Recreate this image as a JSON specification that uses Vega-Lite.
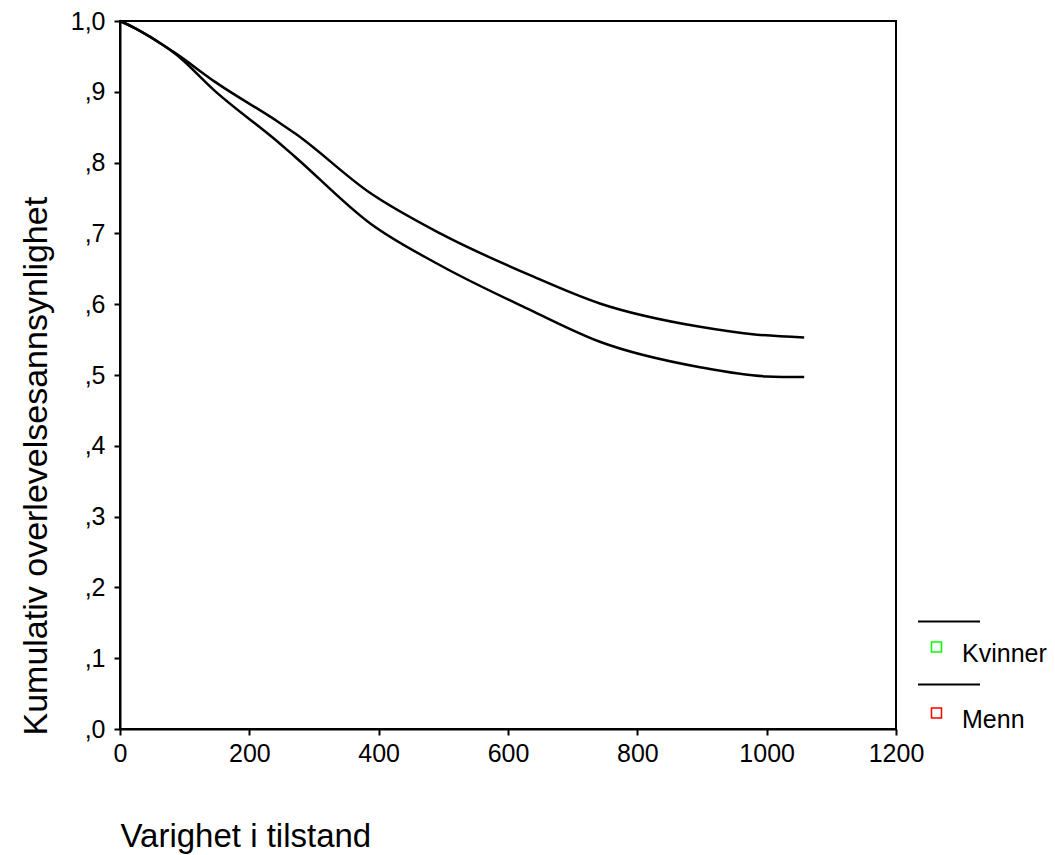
{
  "$schema": "https://vega.github.io/schema/vega-lite/v6.json",
  "width": 776,
  "height": 708,
  "autosize": "none",
  "padding": {"left": 120, "top": 21, "right": 159, "bottom": 126},
  "background": "white",
  "config": {
    "font": "Liberation Sans",
    "view": {"stroke": "black", "strokeWidth": 2},
    "axis": {
      "domainColor": "black", "domainWidth": 2,
      "tickColor": "black", "tickWidth": 2, "tickSize": 6,
      "labelFont": "Liberation Sans", "labelFontSize": 25, "labelColor": "black",
      "titleFont": "Liberation Sans", "titleFontSize": 33, "titleFontWeight": "normal", "titleColor": "black",
      "grid": false
    }
  },
  "datasets": {
    "curves": [
      {"g": "Kvinner", "t": 0, "s": 1.0},
      {"g": "Kvinner", "t": 23, "s": 0.990},
      {"g": "Kvinner", "t": 70, "s": 0.964},
      {"g": "Kvinner", "t": 85, "s": 0.955},
      {"g": "Kvinner", "t": 147, "s": 0.914},
      {"g": "Kvinner", "t": 247, "s": 0.856},
      {"g": "Kvinner", "t": 271, "s": 0.841},
      {"g": "Kvinner", "t": 387, "s": 0.757},
      {"g": "Kvinner", "t": 495, "s": 0.700},
      {"g": "Kvinner", "t": 634, "s": 0.641},
      {"g": "Kvinner", "t": 742, "s": 0.601},
      {"g": "Kvinner", "t": 897, "s": 0.568},
      {"g": "Kvinner", "t": 985, "s": 0.557},
      {"g": "Kvinner", "t": 1058, "s": 0.553},
      {"g": "Menn", "t": 0, "s": 1.0},
      {"g": "Menn", "t": 23, "s": 0.990},
      {"g": "Menn", "t": 70, "s": 0.964},
      {"g": "Menn", "t": 85, "s": 0.954},
      {"g": "Menn", "t": 147, "s": 0.901},
      {"g": "Menn", "t": 247, "s": 0.827},
      {"g": "Menn", "t": 271, "s": 0.808},
      {"g": "Menn", "t": 387, "s": 0.714},
      {"g": "Menn", "t": 495, "s": 0.655},
      {"g": "Menn", "t": 634, "s": 0.592},
      {"g": "Menn", "t": 742, "s": 0.547},
      {"g": "Menn", "t": 897, "s": 0.511},
      {"g": "Menn", "t": 1000, "s": 0.498},
      {"g": "Menn", "t": 1058, "s": 0.497}
    ],
    "keys": [
      {"kjonn": "Kvinner", "t": 0, "s": 1.0},
      {"kjonn": "Menn", "t": 0, "s": 1.0}
    ]
  },
  "encoding": {
    "x": {
      "field": "t", "type": "quantitative",
      "scale": {"domain": [0, 1200], "nice": false, "zero": false},
      "axis": {
        "values": [0, 200, 400, 600, 800, 1000, 1200],
        "format": "d", "labelPadding": 6, "labelFlush": false,
        "title": "Varighet i tilstand",
        "titleAlign": "left", "titleAnchor": "start", "titleBaseline": "alphabetic",
        "titleX": 0, "titleY": 117
      }
    },
    "y": {
      "field": "s", "type": "quantitative",
      "scale": {"domain": [0, 1], "nice": false},
      "axis": {
        "values": [0, 0.1, 0.2, 0.3, 0.4, 0.5, 0.6, 0.7, 0.8, 0.9, 1.0],
        "labelExpr": "datum.value >= 0.999 ? '1,0' : ',' + round(datum.value * 10)",
        "labelPadding": 9, "labelFlush": false,
        "title": "Kumulativ overlevelsesannsynlighet",
        "titleAngle": -90, "titleAlign": "left", "titleBaseline": "alphabetic",
        "titleX": -74, "titleY": 714, "titleFontSize": 34
      }
    }
  },
  "layer": [
    {
      "data": {"name": "curves"},
      "mark": {"type": "line", "strokeWidth": 2.5, "interpolate": "monotone"},
      "encoding": {
        "color": {
          "field": "g", "type": "nominal",
          "scale": {"domain": ["Menn", "Kvinner"], "range": ["black", "black"]},
          "legend": {
            "title": null, "orient": "none", "legendX": 797, "legendY": 594,
            "padding": 0, "offset": 0,
            "symbolType": "M-1,-0.82L1,-0.82", "symbolSize": 3844, "symbolStrokeWidth": 2,
            "rowPadding": 31, "labelOpacity": 0, "labelFontSize": 1, "labelOffset": 0
          }
        }
      }
    },
    {
      "data": {"name": "keys"},
      "mark": {"type": "point", "shape": "square", "filled": false, "opacity": 0},
      "encoding": {
        "stroke": {
          "field": "kjonn", "type": "nominal",
          "scale": {"domain": ["Kvinner", "Menn"], "range": ["#00ff00", "#ff0000"]},
          "legend": {
            "title": null, "orient": "none", "legendX": 804, "legendY": 620,
            "padding": 0, "offset": 0,
            "symbolType": "M-1,-2.3H1V-0.3H-1Z", "symbolSize": 100, "symbolStrokeWidth": 1.5,
            "symbolFillColor": "transparent",
            "labelFont": "Liberation Sans", "labelFontSize": 25, "labelColor": "black",
            "labelOffset": 13, "rowPadding": 38, "labelLimit": 300,
            "encode": {
              "symbols": {"update": {"opacity": {"value": 1}, "fill": {"value": "transparent"}}}
            }
          }
        }
      }
    }
  ]
}
